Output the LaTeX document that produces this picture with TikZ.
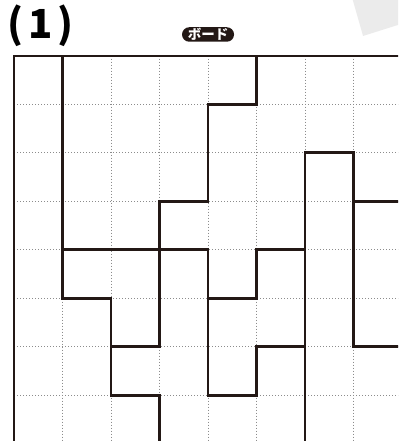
\documentclass[tikz,border=0pt]{standalone}
\usepackage{fontspec}
\newfontfamily\jpfont{Noto Sans CJK JP}
\usetikzlibrary{positioning}
\definecolor{ink}{HTML}{231815}
\tikzset{
  wall/.style={line width=2.8pt,color=ink},
  frame/.style={line width=2pt,color=ink},
  gridline/.style={gray!90,line width=1pt,dash pattern=on 1pt off 2pt},
  tag/.style={fill=ink,text=white,rounded corners=7.2pt,minimum width=52pt,minimum height=14.5pt,inner sep=0pt,font=\jpfont\bfseries\fontsize{13.5}{13.5}\selectfont}
}

\begin{document}
\begin{tikzpicture}[x=48.5pt,y=-48.5pt]
  \useasboundingbox (-0.289,-1.148) rectangle (7.918,7.944);
  \clip (-0.289,-1.148) rectangle (7.918,7.944);
  % page corner in the background
  \fill[black!8] (6.969,-1.2) -- (7.196,-0.406) -- (8,-0.66) -- (8,-1.2) -- cycle;
  % header
  \node[font=\jpfont\bfseries\fontsize{40}{40}\selectfont,inner sep=0pt] (title) at (0.55,-0.62) {(\kern5pt1\kern5pt)};
  \node[tag] (board) at (4,-0.437) {ボード};
  % dotted grid
  \foreach \x in {1,...,7}{\draw[gridline] (\x,0) -- (\x,8);}
  \foreach \y in {1,...,7}{\draw[gridline] (0,\y) -- (8,\y);}
  % outer frame
  \draw[frame] (0,8) -- (0,0) -- (8,0);
  % walls
  \draw[wall] (1,0) -- (1,5) -- (2,5) -- (2,7) -- (3,7) -- (3,8);
  \draw[wall] (1,4) -- (4,4) -- (4,7) -- (5,7) -- (5,6) -- (6,6);
  \draw[wall] (2,6) -- (3,6) -- (3,3) -- (4,3) -- (4,1) -- (5,1) -- (5,0);
  \draw[wall] (4,5) -- (5,5) -- (5,4) -- (6,4);
  \draw[wall] (6,8) -- (6,2) -- (7,2) -- (7,6) -- (8,6);
  \draw[wall] (7,3) -- (8,3);
\end{tikzpicture}
\end{document}
